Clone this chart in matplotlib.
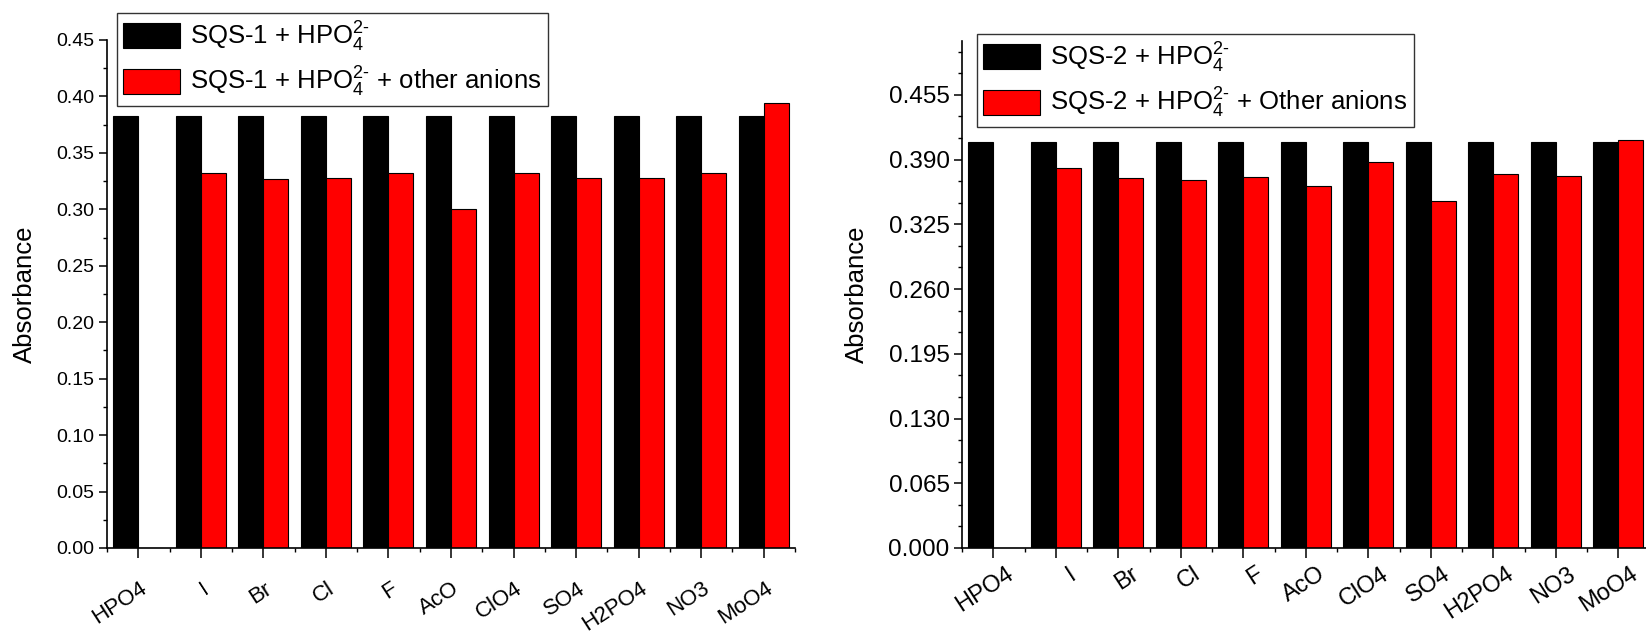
import matplotlib
matplotlib.use('Agg')
import matplotlib.pyplot as plt
import matplotlib.transforms as mtransforms
from matplotlib.ticker import MultipleLocator, AutoMinorLocator, FormatStrFormatter
import numpy as np

plt.rcParams['font.family'] = ['Liberation Sans', 'DejaVu Sans']
plt.rcParams['mathtext.fontset'] = 'custom'
plt.rcParams['mathtext.rm'] = 'Liberation Sans'
plt.rcParams['mathtext.default'] = 'regular'

# anion series (same order on both panels)
anions = ['HPO4', 'I', 'Br', 'Cl', 'F', 'AcO', 'ClO4', 'SO4', 'H2PO4', 'NO3', 'MoO4']

# SQS-1 absorbance
sqs1_hpo4 = [0.383, 0.383, 0.383, 0.383, 0.383, 0.383, 0.383, 0.383, 0.383, 0.383, 0.383]
sqs1_mixed = [0.0, 0.332, 0.327, 0.328, 0.332, 0.300, 0.332, 0.328, 0.328, 0.332, 0.394]

# SQS-2 absorbance
sqs2_hpo4 = [0.408, 0.408, 0.408, 0.408, 0.408, 0.408, 0.408, 0.408, 0.408, 0.408, 0.408]
sqs2_mixed = [0.0, 0.382, 0.371, 0.3695, 0.372, 0.3635, 0.388, 0.348, 0.3755, 0.3735, 0.410]

W, H = 1646, 635
fig = plt.figure(figsize=(W / 100, H / 100), dpi=100)


def px_axes(x0, x1, ytop, ybot):
    return fig.add_axes([x0 / W, (H - ybot) / H, (x1 - x0) / W, (ybot - ytop) / H])


def draw_panel(ax, black, red, ylim, major, minor_n, fmt,
               tick_fs, xlab_fs, xlab_dx, xlab_dy, leg_xy, leg_labels):
    x = np.arange(len(anions))
    width = 0.4
    # black bar to the left of each category tick, red bar to the right
    ax.bar(x - width, black, width, align='edge', color='black', edgecolor='black',
           lw=0.8, label=leg_labels[0], zorder=2)
    ax.bar(x, red, width, align='edge', color='#ff0000', edgecolor='black',
           lw=0.8, label=leg_labels[1], zorder=2)

    ax.set_xlim(-0.5, len(anions) - 0.5)
    ax.set_ylim(*ylim)

    ax.yaxis.set_major_locator(MultipleLocator(major))
    ax.yaxis.set_minor_locator(AutoMinorLocator(minor_n))
    ax.yaxis.set_major_formatter(FormatStrFormatter(fmt))
    ax.set_xticks(x)
    ax.set_xticks(np.arange(-0.5, len(anions), 1.0), minor=True)

    for side in ['top', 'right']:
        ax.spines[side].set_visible(False)
    for side in ['left', 'bottom']:
        ax.spines[side].set_linewidth(1.2)

    ax.tick_params(axis='y', which='major', length=6, width=1.1,
                   labelsize=tick_fs, pad=3)
    ax.tick_params(axis='y', which='minor', length=3, width=1.0)
    ax.tick_params(axis='x', which='major', length=7.5, width=1.1, labelbottom=False)
    ax.tick_params(axis='x', which='minor', length=3, width=1.0)

    # slanted category names hung under each tick
    shift = mtransforms.ScaledTranslation(xlab_dx / 100, -xlab_dy / 100, fig.dpi_scale_trans)
    for xi, name in zip(x, anions):
        ax.text(xi, 0, name, transform=ax.get_xaxis_transform() + shift,
                fontsize=xlab_fs, rotation=33, ha='right', va='top',
                rotation_mode='anchor', clip_on=False)

    ax.set_ylabel('Absorbance', fontsize=18.5, labelpad=14)

    leg = ax.legend(loc='upper left', bbox_to_anchor=(leg_xy[0] / W, 1 - leg_xy[1] / H),
                    bbox_transform=fig.transFigure, fontsize=18.5, frameon=True,
                    fancybox=False, framealpha=1, edgecolor='#333333',
                    handlelength=2.2, handleheight=1.1, handletextpad=0.4,
                    borderpad=0.25, labelspacing=0.45, borderaxespad=0)
    leg.get_frame().set_linewidth(1.0)


ax1 = px_axes(107, 795, 40, 548)
draw_panel(ax1, sqs1_hpo4, sqs1_mixed, (0, 0.45), 0.05, 2, '%.2f',
           14, 16, 1, 30,
           (117, 13),
           [r'SQS-1 + HPO$_4^{2\text{-}}$', r'SQS-1 + HPO$_4^{2\text{-}}$ + other anions'])

ax2 = px_axes(962, 1649.5, 41, 548)
draw_panel(ax2, sqs2_hpo4, sqs2_mixed, (0, 0.509), 0.065, 3, '%.3f',
           17.5, 17, 12, 15,
           (977, 34),
           [r'SQS-2 + HPO$_4^{2\text{-}}$', r'SQS-2 + HPO$_4^{2\text{-}}$ + Other anions'])

fig.savefig('out.png', dpi=100)
